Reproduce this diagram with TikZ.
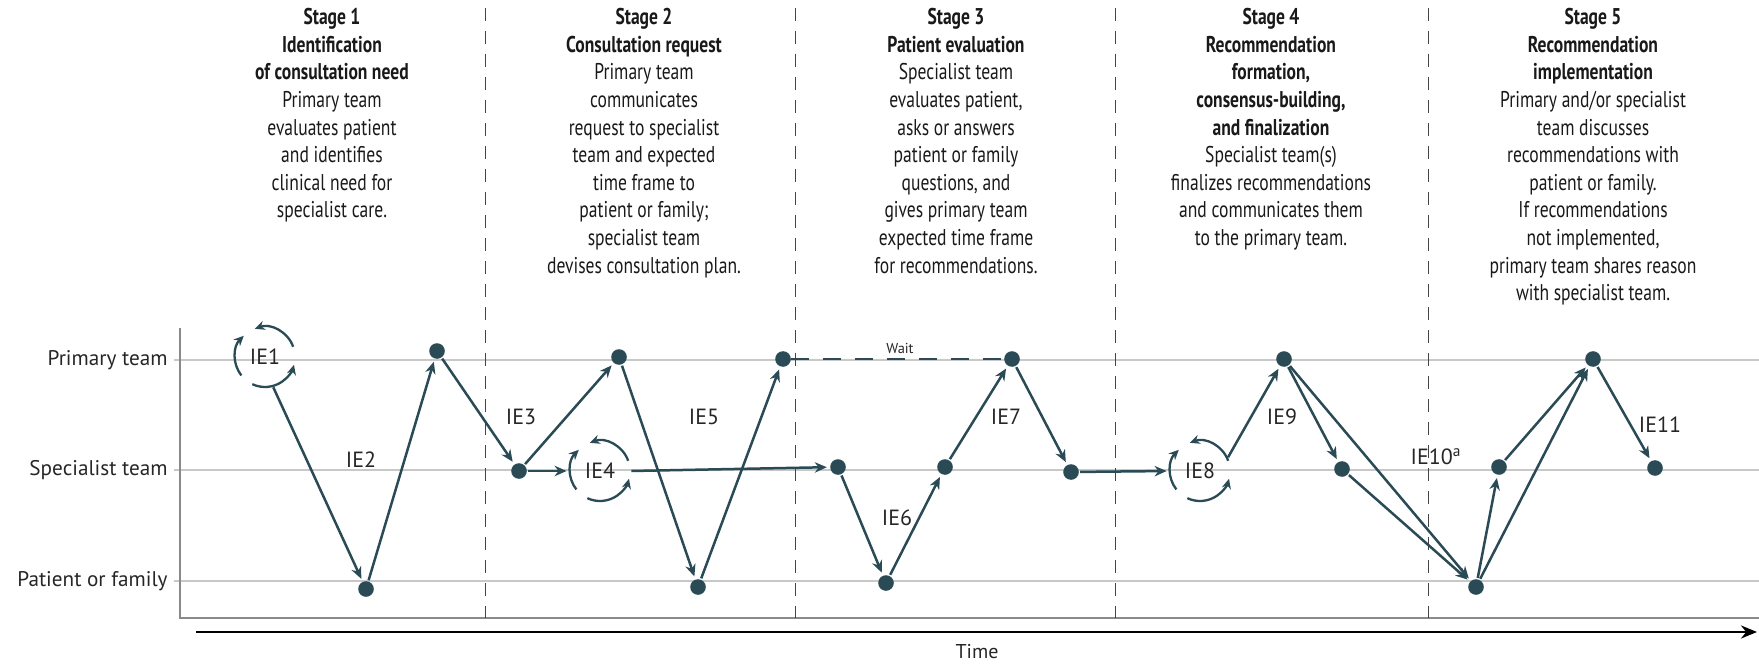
\documentclass[tikz,border=0pt]{standalone}
\usepackage{fontspec}
\setmainfont{PT Sans}
\newfontfamily\hdrfont{PT Sans}[FakeStretch=0.77]
\usetikzlibrary{arrows.meta}
\definecolor{teal}{HTML}{2A4B55}
\definecolor{laneg}{HTML}{C8C8C8}
\definecolor{axisg}{HTML}{8A8A8A}
\definecolor{sepg}{HTML}{444444}
\tikzset{
  hdr/.style={anchor=north, align=center, inner sep=0pt, font=\hdrfont\fontsize{11.4}{13.8}\selectfont, text=black!90},
  lane/.style={anchor=east, inner sep=0pt, font=\fontsize{10.6}{12}\selectfont, text=black!85},
  ielbl/.style={inner sep=0pt, font=\fontsize{11}{12}\selectfont, text=black!85},
  dot/.style={circle, fill=teal, minimum size=7.8pt, inner sep=0pt},
  cyc/.style={circle, minimum size=30pt, inner sep=0pt, font=\fontsize{11}{12}\selectfont, text=black!85},
  flow/.style={draw=teal, line width=1.25pt, -{Stealth[length=6pt,width=5.2pt]}, shorten >=1.5pt, shorten <=0.5pt},
  arcarr/.style={draw=teal, line width=1.15pt, -{Stealth[length=5pt,width=4.6pt]}},
  sep/.style={draw=sepg, line width=0.5pt, dash pattern=on 6.5pt off 5pt},
  laneline/.style={draw=laneg, line width=0.65pt},
}
\newcommand{\cycarcs}[1]{%
  \draw[arcarr] ([shift={(-20:30)}]#1.center) arc[start angle=-20, end angle=-110, radius=30];
  \draw[arcarr] ([shift={(-218:30)}]#1.center) arc[start angle=-218, end angle=-135, radius=30];
  \draw[arcarr] ([shift={(-245:30)}]#1.center) arc[start angle=-245, end angle=-345, radius=30];
}
\begin{document}
\begin{tikzpicture}[x=0.5pt,y=-0.5pt]
\useasboundingbox (0,0) rectangle (1759,663);

% lanes and axes
\draw[laneline] (174,360) -- (1759,360);
\draw[laneline] (174,470) -- (1759,470);
\draw[laneline] (174,581) -- (1759,581);
\draw[draw=axisg, line width=0.8pt] (180,328) -- (180,618) -- (1759,618);
\draw[draw=black, line width=1.3pt, -{Stealth[length=8pt,width=6.5pt]}] (196,632) -- (1757,632);
\node[inner sep=0pt, font=\fontsize{10}{11}\selectfont, text=black!85] (time) at (977,652) {Time};

\node[lane] (lp) at (168,360) {Primary team};
\node[lane] (ls) at (168,470) {Specialist team};
\node[lane] (lf) at (168,581) {Patient or family};

% stage separators
\draw[sep] (485,8) -- (485,618);
\draw[sep] (795,8) -- (795,618);
\draw[sep] (1115,8) -- (1115,618);
\draw[sep] (1428,8) -- (1428,618);

% stage headers
\node[hdr] (st1) at (332,8) {\textbf{Stage 1}\\\textbf{Identification}\\\textbf{of consultation need}\\Primary team\\evaluates patient\\and identifies\\clinical need for\\specialist care.};
\node[hdr] (st2) at (644,8) {\textbf{Stage 2}\\\textbf{Consultation request}\\Primary team\\communicates\\request to specialist\\team and expected\\time frame to\\patient or family;\\specialist team\\devises consultation plan.};
\node[hdr] (st3) at (956,8) {\textbf{Stage 3}\\\textbf{Patient evaluation}\\Specialist team\\evaluates patient,\\asks or answers\\patient or family\\questions, and\\gives primary team\\expected time frame\\for recommendations.};
\node[hdr] (st4) at (1271,8) {\textbf{Stage 4}\\\textbf{Recommendation}\\\textbf{formation,}\\\textbf{consensus-building,}\\\textbf{and finalization}\\Specialist team(s)\\finalizes recommendations\\and communicates them\\to the primary team.};
\node[hdr] (st5) at (1593,8) {\textbf{Stage 5}\\\textbf{Recommendation}\\\textbf{implementation}\\Primary and/or specialist\\team discusses\\recommendations with\\patient or family.\\If recommendations\\not implemented,\\primary team shares reason\\with specialist team.};

% cycles
\node[cyc] (ie1) at (265,357) {IE1};
\node[cyc] (ie4) at (600,471) {IE4};
\node[cyc] (ie8) at (1200,471) {IE8};
\cycarcs{ie1}
\cycarcs{ie4}
\cycarcs{ie8}

% dots
\node[dot] (p1) at (437,351) {};
\node[dot] (f1) at (366,589) {};
\node[dot] (s1) at (519,471) {};
\node[dot] (p2) at (619,357) {};
\node[dot] (f2) at (698,587) {};
\node[dot] (p3) at (783,359) {};
\node[dot] (s2) at (838,467) {};
\node[dot] (f3) at (886,583) {};
\node[dot] (s3) at (945,467) {};
\node[dot] (p4) at (1012,359) {};
\node[dot] (s4) at (1071,472) {};
\node[dot] (p5) at (1284,359) {};
\node[dot] (s5) at (1342,469) {};
\node[dot] (f4) at (1476,587) {};
\node[dot] (s6) at (1499,467) {};
\node[dot] (p6) at (1593,359) {};
\node[dot] (s7) at (1655,468) {};

% labels
\node[ielbl] (l2) at (361,460) {IE2};
\node[ielbl] (l3) at (521,417) {IE3};
\node[ielbl] (l5) at (704,417) {IE5};
\node[ielbl] (l6) at (897,518) {IE6};
\node[ielbl] (l7) at (1006,417) {IE7};
\node[ielbl] (l9) at (1282,417) {IE9};
\node[ielbl] (l10) at (1436,457) {IE10\textsuperscript{a}};
\node[ielbl] (l11) at (1660,425) {IE11};
\node[inner sep=0pt, font=\fontsize{7.2}{8}\selectfont, text=black!85] (wait) at (900,348) {Wait};

% connectors
\draw[flow] (ie1.-75) -- (f1);
\draw[flow] (f1) -- (p1);
\draw[flow] (p1) -- (s1);
\draw[flow] (s1) -- (ie4.west);
\draw[flow] (s1) -- (p2);
\draw[flow] (p2) -- (f2);
\draw[flow] (f2) -- (p3);
\draw[flow] (ie4.east) -- (s2);
\draw[draw=teal, line width=1.25pt, dash pattern=on 9pt off 7pt] (p3) -- (p4);
\draw[flow] (s2) -- (f3);
\draw[flow] (f3) -- (s3);
\draw[flow] (s3) -- (p4);
\draw[flow] (p4) -- (s4);
\draw[flow] (s4) -- (ie8.west);
\draw[flow] (ie8.25) -- (p5);
\draw[flow] (p5) -- (s5);
\draw[flow] (p5) -- (f4);
\draw[flow] (s5) -- (f4);
\draw[flow] (f4) -- (s6);
\draw[flow] (f4) -- (p6);
\draw[flow] (s6) -- (p6);
\draw[flow] (p6) -- (s7);
\end{tikzpicture}
\end{document}
